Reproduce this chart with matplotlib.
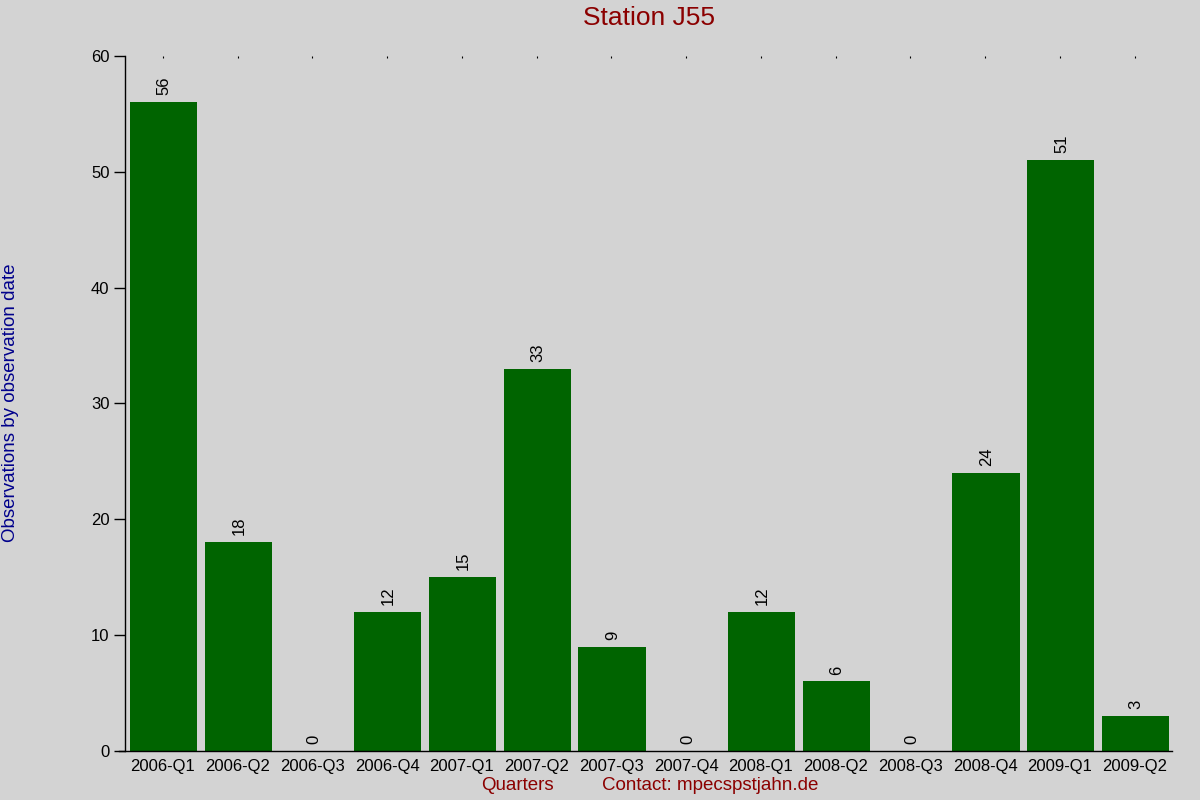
import matplotlib.pyplot as plt
import numpy as np

plt.rcParams["font.family"] = ["Liberation Sans", "DejaVu Sans"]

quarters = ["2006-Q1", "2006-Q2", "2006-Q3", "2006-Q4", "2007-Q1", "2007-Q2", "2007-Q3",
            "2007-Q4", "2008-Q1", "2008-Q2", "2008-Q3", "2008-Q4", "2009-Q1", "2009-Q2"]
counts = [56, 18, 0, 12, 15, 33, 9, 0, 12, 6, 0, 24, 51, 3]

bg = "#d3d3d3"
fig = plt.figure(figsize=(12, 8), dpi=100, facecolor=bg)
ax = fig.add_axes([0.1045, 0.06125, 0.8722, 0.869])
ax.set_facecolor(bg)

x = np.arange(len(quarters))
ax.bar(x + 0.01, counts, width=0.9, color="#006400")
for xi, v in zip(x, counts):
    ax.text(xi + 0.02, v + 0.6, str(v), rotation=90, ha="center", va="bottom", fontsize=12)

ax.set_xlim(-0.5, len(quarters) - 0.5)
ax.set_ylim(0, 60)
ax.set_yticks(range(0, 61, 10))
ax.set_xticks(x)
ax.set_xticklabels(quarters, fontsize=12)
ax.tick_params(axis="y", labelsize=12, length=8, width=1)
ax.tick_params(axis="x", length=0, pad=6)
ax.tick_params(axis="x", which="major", top=True, direction="in", length=1.5)
ax.tick_params(axis="x", bottom=False)

for s in ["top", "right"]:
    ax.spines[s].set_visible(False)
ax.spines["left"].set_linewidth(1)
ax.spines["bottom"].set_linewidth(1)
ax.spines["bottom"].set_bounds(-0.58, len(quarters) - 0.5)

fig.text(0.541, 0.977, "Station J55", color="#8b0000", fontsize=19, ha="center", va="center")
fig.text(0.431, 0.0175, "Quarters", color="#8b0000", fontsize=13.5, ha="center", va="center")
fig.text(0.592, 0.0175, "Contact: mpecspstjahn.de", color="#8b0000", fontsize=13.5,
         ha="center", va="center")
fig.text(0.009, 0.496, "Observations by observation date", color="#00008b", fontsize=13.5,
         rotation=90, ha="center", va="center")

fig.savefig("out.png", dpi=100, facecolor=bg)
